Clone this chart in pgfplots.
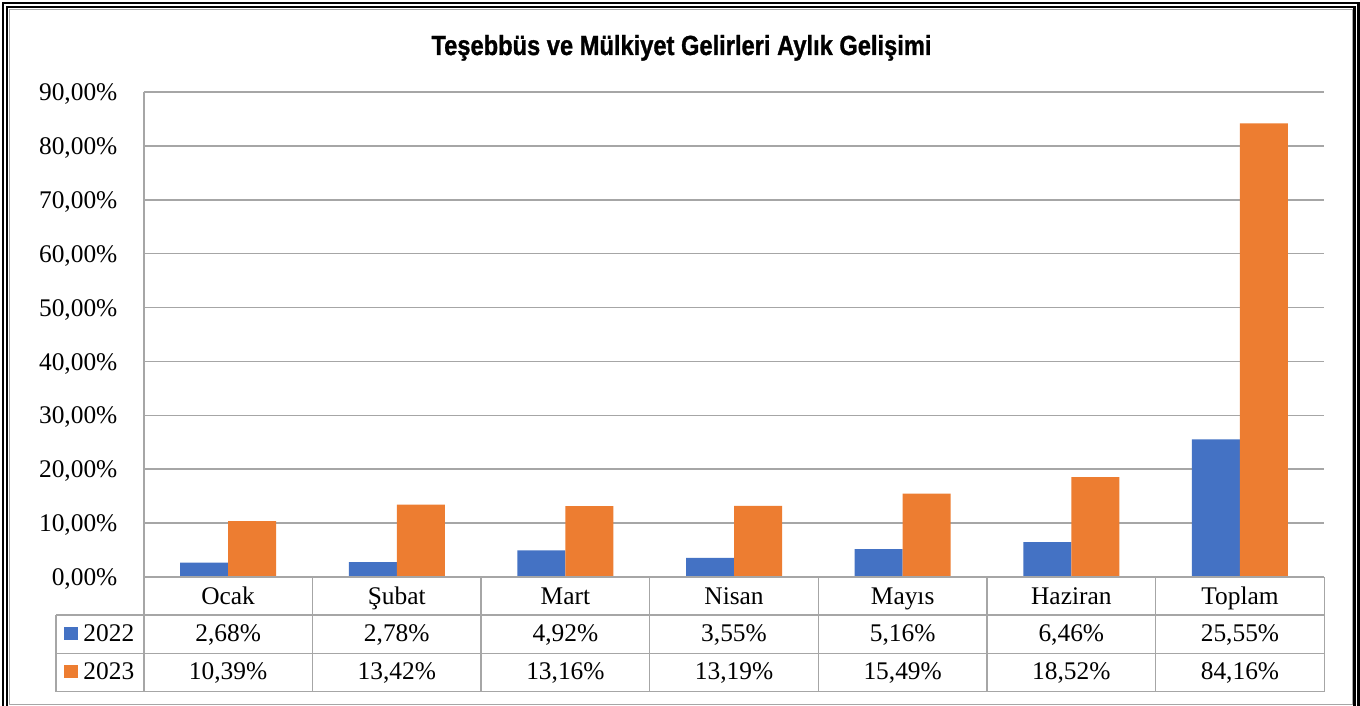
\documentclass[border=0pt]{standalone}
\usepackage{graphicx}
\usepackage{pgfplots}
\usepackage{pgfplotstable}
\pgfplotsset{compat=1.18}
\usepackage{fontspec}
\setmainfont{Liberation Serif}
\newfontfamily\titlefont[BoldFeatures={FakeBold=1.2}]{Liberation Sans}
\definecolor{b22}{HTML}{4472C4}
\definecolor{o23}{HTML}{ED7D31}
\definecolor{gridg}{HTML}{A6A6A6}
\pgfkeys{/pgf/number format/assume math mode=true}

\pgfplotstableread{
x v22 v23
0 2.68 10.39
1 2.78 13.42
2 4.92 13.16
3 3.55 13.19
4 5.16 15.49
5 6.46 18.52
6 25.55 84.16
}\data

\begin{document}
\begin{tikzpicture}
\begin{scope}[x=0.5pt,y=0.5pt]
\begin{scope}
\clip (0,0) rectangle (1360,706);
\fill[white] (0,0) rectangle (1360,706);
\draw[black,line width=1.1pt] (3,-20) rectangle (1358.5,703);
\draw[black,line width=1.1pt] (7,-20) rectangle (1354.5,699);
\draw[gridg,line width=0.7pt] (9.5,1.75) rectangle (1352.5,696.5);
\end{scope}
\end{scope}

\node[anchor=base,inner sep=0pt] at (340.75pt,325.5pt)
  {\resizebox{250pt}{10pt}{\titlefont\bfseries Teşebbüs ve Mülkiyet Gelirleri Aylık Gelişimi}};

\begin{axis}[
  at={(71.9pt,64.5pt)}, anchor=south west,
  scale only axis, width=590.25pt, height=242.5pt,
  ymin=0, ymax=90, xmin=-0.5, xmax=6.5,
  ytick={0,10,...,90},
  xtick={0,...,6},
  xticklabels={Ocak,Şubat,Mart,Nisan,Mayıs,Haziran,Toplam},
  yticklabel={\pgfmathprintnumber[fixed,fixed zerofill,precision=2,use comma]{\tick}\%},
  ybar=0pt, bar width=24pt,
  ymajorgrids, grid style={gridg,line width=0.75pt},
  axis line style={draw=none},
  tick style={draw=none},
  tick label style={font=\fontsize{12.7}{14}\selectfont},
  yticklabel style={anchor=base east,inner sep=0pt,xshift=-13pt,yshift=-4.3pt},
  xticklabel style={anchor=base,inner sep=0pt,yshift=-9.25pt},
  clip=false,
]
\addplot[fill=b22,draw=none] table[x=x,y=v22]{\data};
\addplot[fill=o23,draw=none] table[x=x,y=v23]{\data};
\end{axis}

\begin{scope}[x=0.5pt,y=0.5pt]
% left axis line
\draw[gridg,line width=0.75pt] (143.8,706-92) -- (143.8,706-691.7);
% table lines
\foreach \k in {1,...,7} {
  \pgfmathsetmacro\vx{143.8+168.64*\k}
  \draw[gridg,line width=0.75pt] (\vx,706-577) -- (\vx,706-691.7);
}
\draw[gridg,line width=0.75pt] (143.8,706-577) -- (1324.3,706-577);
\draw[gridg,line width=0.75pt] (56,706-615) -- (1324.3,706-615);
\draw[gridg,line width=0.75pt] (56,706-653.3) -- (1324.3,706-653.3);
\draw[gridg,line width=0.75pt] (56,706-691.7) -- (1324.3,706-691.7);
\draw[gridg,line width=0.75pt] (56,706-615) -- (56,706-691.7);
% legend
\fill[b22] (64,706-640) rectangle (77.7,706-626.7);
\fill[o23] (64,706-678.3) rectangle (77.7,706-665);
\node[anchor=base west,inner sep=0pt,font=\fontsize{12.7}{14}\selectfont] at (83,706-641.7) {2022};
\node[anchor=base west,inner sep=0pt,font=\fontsize{12.7}{14}\selectfont] at (83,706-680) {2023};
% values
\foreach \i in {0,...,6} {
  \pgfmathsetmacro\cx{143.8+168.64*(\i+0.5)}
  \pgfplotstablegetelem{\i}{v22}\of\data
  \let\va\pgfplotsretval
  \pgfplotstablegetelem{\i}{v23}\of\data
  \let\vb\pgfplotsretval
  \node[anchor=base,inner sep=0pt,font=\fontsize{12.7}{14}\selectfont] at (\cx,706-641.7)
    {\pgfmathprintnumber[fixed,fixed zerofill,precision=2,use comma]{\va}\%};
  \node[anchor=base,inner sep=0pt,font=\fontsize{12.7}{14}\selectfont] at (\cx,706-680)
    {\pgfmathprintnumber[fixed,fixed zerofill,precision=2,use comma]{\vb}\%};
}
\end{scope}

\pgfresetboundingbox
\useasboundingbox (0,0) rectangle (680pt,353pt);
\end{tikzpicture}
\end{document}
